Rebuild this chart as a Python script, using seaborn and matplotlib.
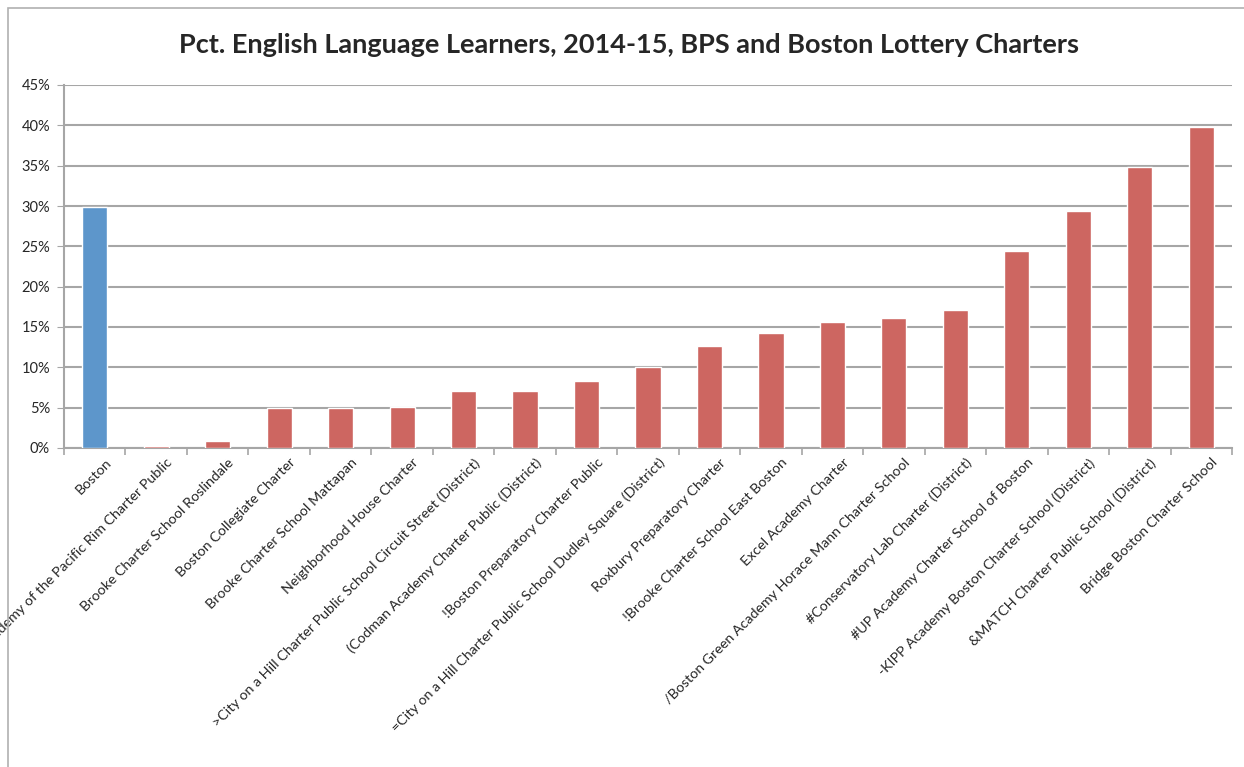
import matplotlib
matplotlib.use("Agg")
import matplotlib.pyplot as plt
import matplotlib.ticker as mticker
import matplotlib.transforms as mtrans
from matplotlib.patches import Rectangle
import seaborn as sns
import pandas as pd

# ===============================
# DATA
# ===============================
schools = [
    "Boston",
    "Academy of the Pacific Rim Charter Public",
    "Brooke Charter School Roslindale",
    "Boston Collegiate Charter",
    "Brooke Charter School Mattapan",
    "Neighborhood House Charter",
    ">City on a Hill Charter Public School Circuit Street (District)",
    "(Codman Academy Charter Public (District)",
    "!Boston Preparatory Charter Public",
    "=City on a Hill Charter Public School Dudley Square (District)",
    "Roxbury Preparatory Charter",
    "!Brooke Charter School East Boston",
    "Excel Academy Charter",
    "/Boston Green Academy Horace Mann Charter School",
    "#Conservatory Lab Charter (District)",
    "#UP Academy Charter School of Boston",
    "-KIPP Academy Boston Charter School (District)",
    "&MATCH Charter Public School (District)",
    "Bridge Boston Charter School",
]
ell_pct = [29.9, 0.3, 0.85, 5.0, 5.0, 5.1, 7.1, 7.1, 8.3, 10.0,
           12.7, 14.2, 15.6, 16.1, 17.1, 24.4, 29.4, 34.8, 39.8]
group = ["BPS"] + ["Charter"] * (len(schools) - 1)

COLORS = {"BPS": "#5D96CB", "Charter": "#CD6661"}
GRID = "#A6A6A6"

df = pd.DataFrame({"school": schools, "pct": ell_pct, "group": group})

# ===============================
# PLOT
# ===============================
sns.set_style("white")
plt.rcParams["font.family"] = ["Lato", "DejaVu Sans"]

fig = plt.figure(figsize=(12.44, 7.67), dpi=100)
ax = fig.add_axes([64 / 1244, 1 - 448 / 767, (1232 - 64) / 1244, (448 - 85) / 767])

sns.barplot(
    data=df, x="school", y="pct", hue="group",
    palette=COLORS, dodge=False, width=0.41,
    legend=False, ax=ax, saturation=1,
)
# bars sit on top of the axis line (tiny bars stay visible)
for bar in ax.patches:
    bar.set_zorder(3)

ax.set_ylim(0, 45)
ax.set_xlim(-0.5, len(schools) - 0.5)
ax.yaxis.set_major_locator(mticker.MultipleLocator(5))
ax.yaxis.set_major_formatter(mticker.PercentFormatter(decimals=0))
ax.grid(axis="y", color=GRID, linewidth=1.5)
ax.set_axisbelow(True)

ax.set_xticks(range(len(schools)))
ax.set_xticklabels(schools, rotation=45, ha="right", rotation_mode="anchor", fontsize=10.3)
ax.tick_params(axis="x", length=0, pad=6)
ax.tick_params(axis="y", length=5, color=GRID, labelsize=10.5, pad=5, left=True)

# nudge the rotated labels right, like Excel places them
shift = mtrans.ScaledTranslation(10 / 100, 0, fig.dpi_scale_trans)
for lbl in ax.get_xticklabels():
    lbl.set_transform(lbl.get_transform() + shift)

# Excel-style ticks between categories
ax.set_xticks([i - 0.5 for i in range(len(schools) + 1)], minor=True)
ax.tick_params(axis="x", which="minor", length=5, color=GRID, width=1.2, bottom=True)

for side in ["top", "right"]:
    ax.spines[side].set_visible(False)
for side in ["left", "bottom"]:
    ax.spines[side].set_color(GRID)
    ax.spines[side].set_linewidth(1.5)

ax.set_xlabel("")
ax.set_ylabel("")

fig.text(0.506, 1 - 45 / 767,
         "Pct. English Language Learners, 2014-15, BPS and Boston Lottery Charters",
         ha="center", va="center", fontsize=19.5, fontweight="bold")

# chart area border (cut off at right/bottom like the screenshot)
fig.patches.append(Rectangle((8 / 1244, -0.1), 1.2, 1 - 8 / 767 + 0.1,
                             transform=fig.transFigure, fill=False,
                             edgecolor="#B0B0B0", linewidth=1.2))

fig.savefig("out.png", dpi=100)
